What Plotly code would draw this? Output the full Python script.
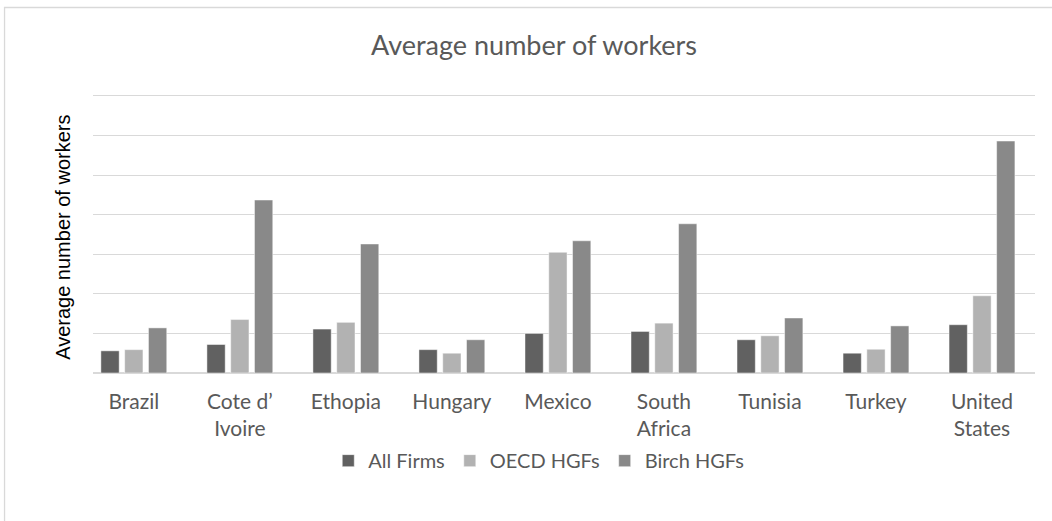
import plotly.graph_objects as go

# Countries on the category axis (line breaks as printed under the bars)
countries = ["Brazil", "Cote d’<br>Ivoire", "Ethopia", "Hungary", "Mexico",
             "South<br>Africa", "Tunisia", "Turkey", "United<br>States"]

# Average number of workers per firm group
all_firms = [5.6, 7.2, 11.1, 5.9, 10.0, 10.5, 8.4, 5.0, 12.2]
oecd_hgfs = [5.9, 13.5, 12.8, 5.0, 30.5, 12.6, 9.4, 6.0, 19.5]
birch_hgfs = [11.4, 43.7, 32.6, 8.4, 33.4, 37.7, 13.9, 11.9, 58.6]

series = [
    ("All Firms", all_firms, "#616161"),
    ("OECD HGFs", oecd_hgfs, "#b2b2b2"),
    ("Birch HGFs", birch_hgfs, "#898989"),
]

W, H = 1052, 521
Y_TOP = 72  # a little headroom so the 70 gridline is drawn
L, R, B = 93, 16.5, 147.7
T = 96 - (Y_TOP - 70) * (373.3 - 96) / 70
pw, ph = W - L - R, H - T - B


def px_x(x):
    return (x - L) / pw


def px_y(y):
    return (H - B - y) / ph


fig = go.Figure()
for name, vals, col in series:
    fig.add_trace(go.Bar(
        x=list(range(len(countries))), y=vals, name=name,
        marker=dict(color=col, line=dict(width=0.8, color="rgba(255,255,255,0.6)")),
    ))

fig.update_layout(
    width=W, height=H,
    margin=dict(l=L, r=R, t=T, b=B, pad=0),
    paper_bgcolor="white", plot_bgcolor="white",
    barmode="group", bargap=0.327, bargroupgap=0.231,
    showlegend=True,
    legend=dict(orientation="h", xanchor="center", yanchor="middle",
                x=px_x(539), y=px_y(461),
                font=dict(family="Lato", size=20, color="#595959"),
                traceorder="normal"),
    xaxis=dict(
        tickmode="array", tickvals=list(range(len(countries))), ticktext=countries,
        range=[-0.385, 8.5], showgrid=False, showline=False, zeroline=False,
        ticks="", ticklabelstandoff=14,
        tickfont=dict(family="Lato", size=21, color="#595959"),
    ),
    yaxis=dict(
        range=[0, Y_TOP], tickmode="linear", tick0=0, dtick=10,
        showticklabels=False, ticks="",
        showgrid=True, gridcolor="#d9d9d9", gridwidth=1.4,
        zeroline=True, zerolinecolor="#d9d9d9", zerolinewidth=1.6,
        showline=False,
    ),
    annotations=[
        dict(text="Average number of workers", xref="paper", yref="paper",
             x=px_x(534), y=px_y(45), xanchor="center", yanchor="middle",
             showarrow=False, font=dict(family="Lato", size=27, color="#595959")),
        dict(text="Average number of workers", xref="paper", yref="paper",
             x=px_x(63), y=px_y(238), xanchor="center", yanchor="middle",
             textangle=-90, showarrow=False,
             font=dict(family="Liberation Sans", size=20, color="#000000")),
    ],
    shapes=[
        dict(type="rect", xref="paper", yref="paper",
             x0=px_x(4.5), x1=px_x(1100), y0=px_y(560), y1=px_y(7.5),
             line=dict(color="#d9d9d9", width=1.3), fillcolor="rgba(0,0,0,0)",
             layer="below"),
    ],
)

fig.write_html("out.html")
